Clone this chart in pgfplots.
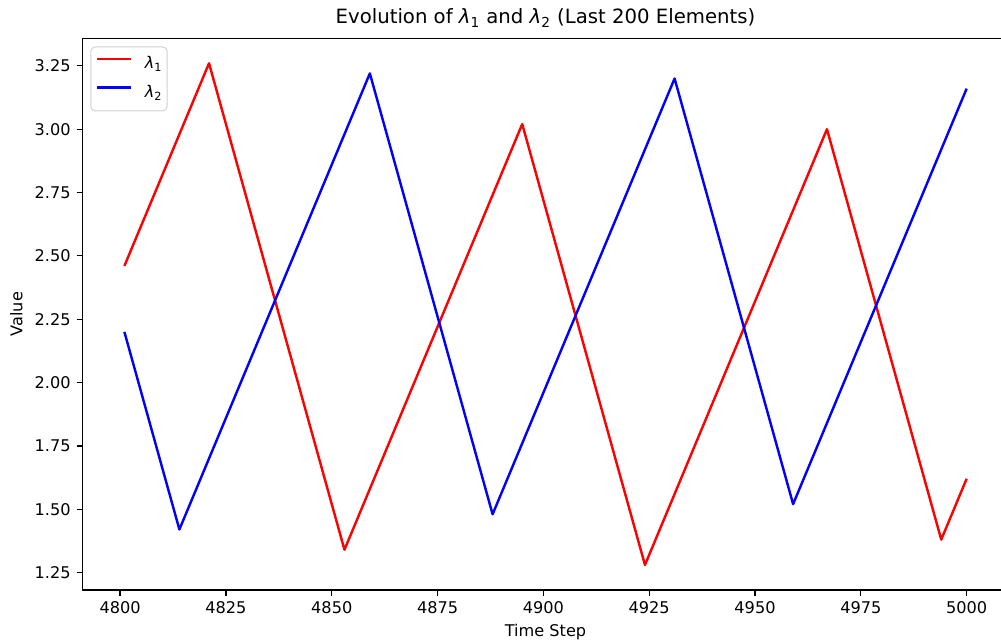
\documentclass[border=0pt]{standalone}
\usepackage{fontspec}
\setmainfont{DejaVu Sans}
\usepackage{pgfplots}
\pgfplotsset{compat=1.18}
\newcommand{\lam}[1]{\textit{λ}\textsubscript{#1}}
\begin{document}
\begin{tikzpicture}
\begin{axis}[
  scale only axis, width=574.4pt, height=342.1pt,
  xmin=4791.05, xmax=5009.95, ymin=1.181, ymax=3.359,
  axis line style={line width=0.8pt, black},
  tick style={line width=0.8pt, black},
  major tick length=3.5pt,
  tick align=outside,
  xtick pos=bottom, ytick pos=left,
  xtick={4800,4825,4850,4875,4900,4925,4950,4975,5000},
  ytick={1.25,1.5,1.75,2.0,2.25,2.5,2.75,3.0,3.25},
  /pgf/number format/assume math mode=true,
  xticklabel style={/pgf/number format/1000 sep={}, font=\fontsize{10}{12}\selectfont, anchor=north, inner sep=0pt, yshift=-3.5pt},
  yticklabel style={/pgf/number format/.cd, fixed, fixed zerofill, precision=2, /tikz/.cd, font=\fontsize{10}{12}\selectfont, anchor=east, inner sep=0pt, xshift=-3.5pt},
  title={Evolution of \lam{1} and \lam{2} (Last 200 Elements)},
  title style={at={([yshift=3pt]axis description cs:0.5,1)}, anchor=base, font=\fontsize{12.2}{14.6}\selectfont, inner sep=0pt},
  xlabel={Time Step},
  xlabel style={at={([yshift=-28.7pt]axis description cs:0.5,0)}, anchor=base, inner sep=0pt, font=\fontsize{10}{12}\selectfont},
  ylabel={Value},
  ylabel style={at={([xshift=-40.8pt]axis description cs:0,0.5)}, anchor=center, inner sep=0pt, font=\fontsize{10}{12}\selectfont},
  legend style={at={([xshift=5pt,yshift=-5pt]axis description cs:0,1)}, anchor=north west,
    draw=black!18, line width=0.6pt, rounded corners=3pt, fill=white,
    inner xsep=3pt, inner ysep=6.5pt, row sep=8.8pt, column sep=8pt,
    nodes={inner sep=0pt, text height=7pt, text depth=2pt},
    font=\fontsize{10}{12}\selectfont},
  legend cell align=left,
  legend image code/.code={\draw[#1, line width=1.5pt] (0pt,3.5pt) -- (21pt,3.5pt);},
]
\addplot[red, line width=1.5pt, line join=round] coordinates {
  (4801,2.46) (4821,3.26) (4853,1.34) (4895,3.02) (4924,1.28) (4967,3.00) (4994,1.38) (5000,1.62)
};
\addlegendentry{\lam{1}}
\addplot[blue, line width=1.5pt, line join=round] coordinates {
  (4801,2.20) (4814,1.42) (4859,3.22) (4888,1.48) (4931,3.20) (4959,1.52) (5000,3.16)
};
\addlegendentry{\lam{2}}
\coordinate (ll) at (rel axis cs:0,0);
\end{axis}
\pgfresetboundingbox
\path[use as bounding box] ([shift={(-51.0pt,-32.2pt)}]ll) rectangle ++(620.6pt,398.0pt);
\end{tikzpicture}
\end{document}
